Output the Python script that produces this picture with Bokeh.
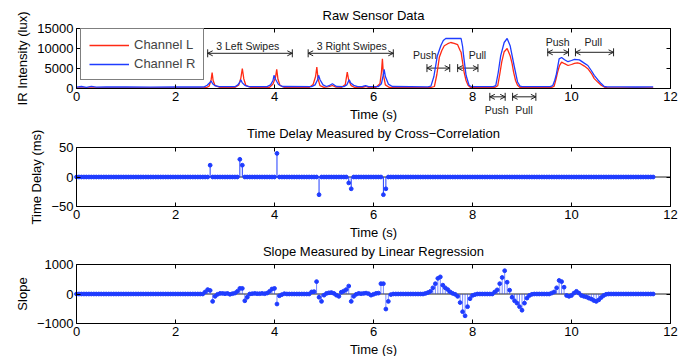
import numpy as np
from bokeh.plotting import figure
from bokeh.layouts import column
from bokeh.core.properties import value
from bokeh.models import (Range1d, LinearAxis, FixedTicker, ColumnDataSource, LabelSet, Label,
                          Whisker, Arrow, OpenHead, TeeHead, Legend, LegendItem)
from bokeh.embed import file_html
from bokeh.resources import INLINE

FONT = "Liberation Sans"
RED = "#ff2a14"
BLUE = "#1f3cff"
INK = "#222222"

# ---------------- data ----------------
x_ticks = [0, 2, 4, 6, 8, 10, 12]

# Raw sensor data, channel L (red)
L_t = [0.00, 0.50, 1.00, 1.50, 2.00, 2.50, 2.62,
       2.68, 2.72, 2.74, 2.76, 2.80, 2.90,
       3.20, 3.28, 3.32, 3.35, 3.38, 3.42, 3.52,
       3.90, 3.97, 4.02, 4.045, 4.07, 4.11, 4.20,
       4.70, 4.78, 4.83, 4.855, 4.88, 4.92, 5.00,
       5.10, 5.17, 5.24,
       5.36, 5.43, 5.47, 5.50, 5.55, 5.62,
       5.78, 5.84, 5.90,
       6.05, 6.13, 6.16, 6.18, 6.20, 6.24, 6.32,
       7.15, 7.23, 7.28, 7.33, 7.38, 7.43, 7.50, 7.56, 7.63, 7.70, 7.75, 7.77, 7.80, 7.83, 7.87, 7.91, 7.96,
       8.45, 8.51, 8.55, 8.59, 8.64, 8.70, 8.76, 8.80, 8.83, 8.87, 8.91, 8.96,
       9.60, 9.65, 9.69, 9.72, 9.76, 9.80, 9.86, 9.93, 10.00, 10.06, 10.12, 10.18, 10.26, 10.33,
       10.40, 10.46, 10.53, 10.60, 10.67, 10.72,
       11.00, 11.30, 11.65]
L_v = [150, 180, 140, 170, 150, 160, 200,
       600, 2200, 3950, 2000, 700, 250,
       250, 900, 2600, 5000, 2400, 800, 250,
       300, 1100, 2800, 4770, 2300, 800, 250,
       250, 1000, 3000, 5350, 2400, 700, 300,
       450, 750, 350,
       300, 1000, 4100, 2000, 700, 250,
       300, 500, 250,
       300, 1200, 4000, 7400, 3500, 900, 250,
       200, 500, 3500, 7800, 9500, 10700, 11200, 11500, 11300, 10950, 9500, 9050, 6500, 4100, 2000, 800, 250,
       250, 700, 3500, 6600, 9200, 10000, 8200, 6200, 4100, 2000, 800, 250,
       250, 600, 2500, 4100, 5800, 6600, 6200, 5750, 6000, 6300, 6400, 6200, 5600, 4950,
       3800, 2470, 1600, 800, 300, 200,
       180, 170, 160]

# Raw sensor data, channel R (blue)
R_t = [0.00, 0.10, 0.20, 0.30, 0.40, 0.60, 1.00, 1.50, 2.00, 2.50, 2.58,
       2.64, 2.68, 2.72, 2.75, 2.80, 2.88,
       3.20, 3.26, 3.30, 3.32, 3.35, 3.40, 3.48,
       3.85, 3.92, 3.97, 3.99, 4.02, 4.08, 4.16,
       4.75, 4.82, 4.87, 4.89, 4.92, 4.98, 5.05,
       5.10, 5.17, 5.25,
       5.40, 5.46, 5.49, 5.51, 5.54, 5.60, 5.68,
       5.78, 5.84, 5.90,
       6.10, 6.16, 6.20, 6.215, 6.24, 6.30, 6.38,
       7.10, 7.16, 7.22, 7.29, 7.36, 7.41, 7.46, 7.60, 7.77, 7.80, 7.82, 7.87, 7.93, 7.98,
       8.42, 8.47, 8.52, 8.57, 8.64, 8.70, 8.76, 8.84, 8.91, 8.96, 9.00,
       9.57, 9.62, 9.66, 9.69, 9.75, 9.80, 9.86, 9.93, 10.00, 10.06, 10.16, 10.25, 10.33, 10.40,
       10.46, 10.53, 10.60, 10.66, 10.72,
       11.00, 11.30, 11.65]
R_v = [350, 500, 300, 550, 350, 400, 380, 360, 380, 370, 400,
       800, 1300, 1880, 1200, 700, 450,
       450, 900, 1600, 2200, 1400, 800, 450,
       450, 900, 2000, 3300, 2300, 1000, 500,
       450, 900, 2200, 3300, 2200, 900, 500,
       700, 1200, 500,
       450, 900, 1700, 2200, 1400, 800, 450,
       500, 700, 450,
       500, 1200, 3500, 4770, 3000, 1100, 500,
       400, 600, 3000, 8200, 10700, 12000, 12500, 12500, 12500, 10500, 8200, 3300, 800, 450,
       450, 700, 4000, 8200, 11500, 12500, 10700, 5750, 1630, 600, 450,
       450, 700, 2000, 3300, 7400, 7750, 7200, 6700, 7000, 7300, 7150, 6400, 5750, 4500,
       3300, 2200, 1230, 500, 400,
       400, 380, 390]

raw_y_ticks = [0, 5000, 10000, 15000]

# annotations on the raw-data panel
ann_text = ["3 Left Swipes", "3 Right Swipes", "Push", "Pull", "Push", "Pull", "Push", "Pull"]
ann_x = [3.46, 5.56, 7.04, 8.10, 8.49, 9.04, 9.72, 10.44]
ann_y = [10700, 10600, 8400, 8400, -5300, -5300, 11700, 11700]
arr_x0 = [2.65, 4.68, 7.08, 7.70, 8.35, 8.81, 9.52, 10.08]
arr_x1 = [4.36, 6.40, 7.54, 8.11, 8.66, 9.28, 9.94, 10.85]
arr_y = [8800, 8800, 5100, 5100, -2080, -2080, 9050, 9050]

# sampling grid of the derived signals (20 Hz)
dt = 0.05
n_samples = 234

# time delay (ms): non-zero samples
delay_t_nz = [2.70, 3.30, 3.35, 4.05, 4.90, 5.50, 5.55, 6.20, 6.25]
delay_v_nz = [20, 30, 20, 40, -30, -10, -20, -30, -20]
delay_y_ticks = [-50, 0, 50]

# slope: non-zero samples
slope_t_nz = [2.60, 2.65, 2.70, 2.75, 2.80, 2.85, 2.90, 2.95, 3.00, 3.05, 3.10, 3.15,
              3.20, 3.25, 3.30, 3.35, 3.40, 3.45, 3.55, 3.60, 3.65, 3.70, 3.75, 3.80, 3.85,
              3.90, 3.95, 4.00, 4.05, 4.10, 4.15, 4.20,
              4.75, 4.80, 4.85, 4.90, 4.95, 5.00, 5.05, 5.10, 5.15, 5.20, 5.25, 5.30,
              5.35, 5.40, 5.45, 5.50, 5.55, 5.60, 5.65, 5.70, 5.75, 5.80, 5.85, 5.90, 5.95,
              6.00, 6.05, 6.10, 6.15, 6.20, 6.25, 6.30, 6.35,
              7.05, 7.10, 7.15, 7.20, 7.25, 7.30, 7.35, 7.40, 7.45, 7.50, 7.55, 7.60, 7.65,
              7.70, 7.75, 7.80, 7.85, 7.90, 7.95, 8.00, 8.05,
              8.45, 8.50, 8.55, 8.60, 8.65, 8.70, 8.75, 8.80, 8.85, 8.90, 8.95, 9.00, 9.05,
              9.10, 9.15, 9.20,
              9.60, 9.65, 9.70, 9.75, 9.80, 9.85, 9.90, 9.95, 10.00, 10.05, 10.10, 10.15,
              10.20, 10.25, 10.30, 10.35, 10.40, 10.45, 10.50, 10.55, 10.60, 10.65, 10.70]
slope_v_nz = [70, 150, 120, -250, -80, -10, 20, 20, 10, 20, -10, 10,
              30, 90, 190, 190, -230, -110, 10, 20, 10, 10, 20, 10, 30,
              90, 170, 190, -340, -60, -20, 10,
              70, 80, 420, -110, -250, -40, 20, 40, 50, 20, -40, -80,
              60, 100, 150, 270, -250, -80, -10, 20, 10, 20, 30, 10, -40,
              -10, 20, 30, 350, 350, -510, -250, -20,
              20, 50, 90, 210, 350, 530, 580, 300, 210, 150, 70, 20, -10,
              -80, -290, -600, -740, -430, -160, -50, -20,
              70, 140, 350, 560, 790, 400, 130, -110, -230, -310, -430, -550, -310,
              -140, -50, -10,
              30, 70, 210, 460, 420, 230, -50, -80, -50, 30, 90, 30,
              -50, -80, -100, -140, -170, -220, -250, -200, -120, -50, -10]
slope_y_ticks = [-1000, 0, 1000]


def fmt(v):
    return ("\u2212" + str(-v)) if v < 0 else str(v)


W = 692
BOX_L, BOX_R = 76, 670          # left / right edges of every axes box (pixels)


def style_axis(ax, lab_standoff, axlab_standoff):
    ax.major_tick_in = 4
    ax.major_tick_out = 0
    ax.minor_tick_line_color = None
    ax.axis_line_color = "black"
    ax.major_tick_line_color = "black"
    ax.major_label_text_font = FONT
    ax.major_label_text_font_size = "13px"
    ax.major_label_text_color = "black"
    ax.axis_label_text_font = FONT
    ax.axis_label_text_font_size = "13px"
    ax.axis_label_text_font_style = "normal"
    ax.axis_label_text_color = "black"
    ax.major_label_standoff = lab_standoff
    ax.axis_label_standoff = axlab_standoff


def tick_only_axis(ticks):
    return LinearAxis(ticker=FixedTicker(ticks=ticks), major_tick_in=4, major_tick_out=0,
                      minor_tick_line_color=None, axis_line_color="black",
                      major_tick_line_color="black",
                      major_label_text_font_size="0px", major_label_text_color=None,
                      major_label_standoff=0)


def make_panel(height, box_t, box_b, yticks, ylabel, title, title_px):
    """A panel whose frame fills the whole canvas; the axes are pinned to the data box."""
    ymin, ymax = yticks[0], yticks[-1]
    sx = (BOX_R - BOX_L) / (x_ticks[-1] - x_ticks[0])
    sy = (box_b - box_t) / (ymax - ymin)
    p = figure(width=W, height=height,
               x_range=Range1d(x_ticks[0] - BOX_L / sx, x_ticks[-1] + (W - BOX_R) / sx),
               y_range=Range1d(ymin - (height - box_b) / sy, ymax + box_t / sy),
               output_backend="svg", toolbar_location=None,
               min_border_left=0, min_border_right=0, min_border_top=0, min_border_bottom=0)
    p.grid.visible = False
    p.outline_line_color = None
    xa, ya = p.below[0], p.left[0]
    xa.ticker = FixedTicker(ticks=x_ticks)
    ya.ticker = FixedTicker(ticks=yticks)
    ya.major_label_overrides = {t: fmt(t) for t in yticks}
    xa.axis_label = "Time (s)"
    ya.axis_label = ylabel
    style_axis(xa, 3, 3)
    style_axis(ya, 3, 4)
    xa.fixed_location = ymin
    ya.fixed_location = x_ticks[0]
    xa.bounds = (x_ticks[0], x_ticks[-1])
    ya.bounds = (ymin, ymax)
    ta = tick_only_axis(x_ticks)
    ta.fixed_location = ymax
    ta.bounds = (x_ticks[0], x_ticks[-1])
    ra = tick_only_axis(yticks)
    ra.fixed_location = x_ticks[-1]
    ra.bounds = (ymin, ymax)
    p.add_layout(ta, "above")
    p.add_layout(ra, "right")
    p.add_layout(Label(x=(x_ticks[0] + x_ticks[-1]) / 2, y=ymax + (box_t - title_px) / sy,
                       text=title, text_align="center", text_baseline="middle",
                       text_font=FONT, text_font_size="13px", text_color="black"))
    return p


# ---------------- panel 1: raw data ----------------
H1 = 122
p1 = make_panel(H1, 28, 88, raw_y_ticks, "IR Intensity (lux)", "Raw Sensor Data", 15)
rl = p1.line(L_t, L_v, line_color=RED, line_width=1.3)
rr = p1.line(R_t, R_v, line_color=BLUE, line_width=1.3)
leg = Legend(items=[LegendItem(label="Channel L", renderers=[rl]),
                    LegendItem(label="Channel R", renderers=[rr])],
             location=(BOX_L + 4, H1 - 80), padding=8, spacing=4,
             glyph_width=40, glyph_height=12, label_height=12, label_standoff=5,
             label_text_font=FONT, label_text_font_size="13px",
             border_line_color="black", border_line_width=1, background_fill_alpha=1)
p1.add_layout(leg)

asrc = ColumnDataSource(dict(x0=arr_x0, x1=arr_x1, y=arr_y))
p1.add_layout(Whisker(source=asrc, base="y", lower="x0", upper="x1", dimension="width",
                      line_color=INK, line_width=1,
                      lower_head=TeeHead(size=8, line_color=INK, line_width=1),
                      upper_head=TeeHead(size=8, line_color=INK, line_width=1)))
p1.add_layout(Arrow(source=asrc, x_start="x0", y_start="y", x_end="x1", y_end="y",
                    line_alpha=0,
                    start=OpenHead(size=5, line_color=INK, line_width=1),
                    end=OpenHead(size=5, line_color=INK, line_width=1)))
tsrc = ColumnDataSource(dict(x=ann_x, y=ann_y, text=ann_text))
p1.add_layout(LabelSet(source=tsrc, x="x", y="y", text="text", text_align="center",
                       text_baseline="middle", text_font=value(FONT),
                       text_font_size=value("10.5px"), text_color=value(INK)))

# ---------------- panel 2: time delay ----------------
t_grid = np.arange(n_samples) * dt
delay = np.zeros(n_samples)
for t, v in zip(delay_t_nz, delay_v_nz):
    delay[int(round(t / dt))] = v
slope = np.zeros(n_samples)
for t, v in zip(slope_t_nz, slope_v_nz):
    slope[int(round(t / dt))] = v

p2 = make_panel(118, 25, 84, delay_y_ticks, "Time Delay (ms)",
                "Time Delay Measured by Cross\u2212Correlation", 11)
p2.line([0, 12], [0, 0], line_color=INK, line_width=1)
p2.segment(t_grid, np.zeros(n_samples), t_grid, delay, line_color=BLUE, line_width=1)
p2.scatter(t_grid, delay, size=3.8, fill_color=BLUE, line_color=BLUE)

# ---------------- panel 3: slope ----------------
p3 = make_panel(116, 24, 83, slope_y_ticks, "Slope",
                "Slope Measured by Linear Regression", 11)
p3.line([0, 12], [0, 0], line_color=INK, line_width=1)
p3.segment(t_grid, np.zeros(n_samples), t_grid, slope, line_color=BLUE, line_width=1,
           line_alpha=0.6)
p3.scatter(t_grid, slope, size=3.8, fill_color=BLUE, line_color=BLUE)

layout = column(p1, p2, p3, spacing=0)
open("out.html", "w").write(file_html(layout, INLINE))
